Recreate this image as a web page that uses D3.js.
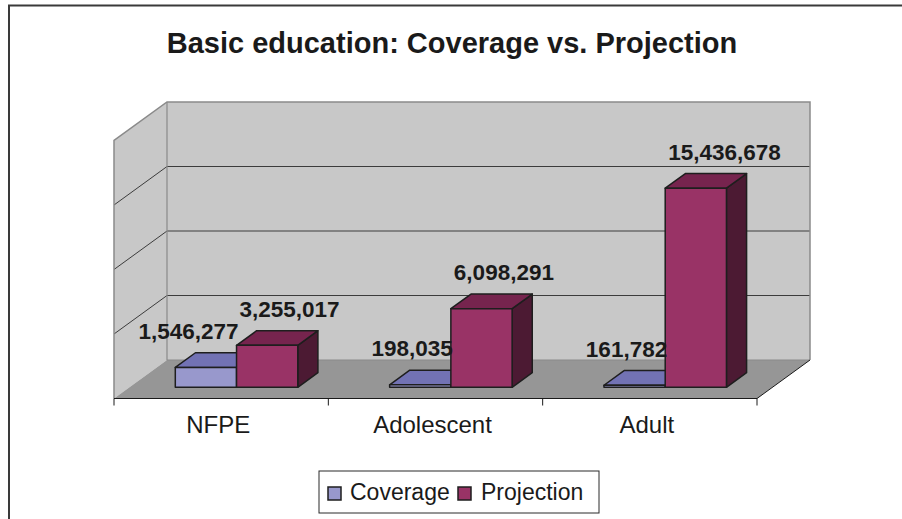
<!DOCTYPE html>
<html>
<head>
<meta charset="utf-8">
<script src="https://cdn.jsdelivr.net/npm/d3@7"></script>
<style>
  html, body { margin: 0; padding: 0; background: #fff; overflow: hidden; }
  svg { display: block; }
  text { font-family: Arial, "Liberation Sans", sans-serif; fill: #1a1a1a; }
</style>
</head>
<body>
<svg id="chart" width="902" height="519"></svg>
<script>
// Chart data
const categories = ["NFPE", "Adolescent", "Adult"];
const seriesNames = ["Coverage", "Projection"];
const coverage = [1546277, 198035, 161782];
const projection = [3255017, 6098291, 15436678];
const valueTicks = [0, 5000000, 10000000, 15000000, 20000000];
const chartTitle = "Basic education: Coverage vs. Projection";

// Layout of the 3D box (front plane + depth vector)
const W = 902, H = 519;
const frontLeft = 114, frontRight = 757;
const floorY = 398.5;               // front edge of the floor
const DX = 53, DY = 38.5;           // full depth offset of the box
const wallH = 258;                  // back wall height in px
const zFront = 0.29, zBack = 0.67;  // depth span occupied by the columns

const colors = {
  Coverage:   { front: "#9898cc", top: "#7272b4", side: "#55558a" },
  Projection: { front: "#993366", top: "#76244e", side: "#4c1a33" }
};

const svg = d3.select("#chart");

// Scales
const x = d3.scaleBand().domain(categories).range([frontLeft, frontRight]).paddingInner(0).paddingOuter(0);
const xs = d3.scaleBand().domain(seriesNames).range([0, x.bandwidth()]).paddingInner(0).paddingOuter(0.75);
const y = d3.scaleLinear().domain([0, d3.max(valueTicks)]).range([0, wallH]);

// Project a point on the front-plane x, depth z (0..1) and height h (px)
const P = (px, z, h) => [px + z * DX, floorY - z * DY - h];
const poly = pts => "M" + pts.map(p => p.join(",")).join("L") + "Z";

// Outer frame (only its top and left edges fall inside the page)
svg.append("path").attr("d", `M9,${H}L9,5.5L${W},5.5`)
  .attr("fill", "none").attr("stroke", "#3a3a3a").attr("stroke-width", 2);

// Title
svg.append("text").attr("x", 452).attr("y", 53).attr("text-anchor", "middle")
  .attr("font-size", 29).attr("font-weight", "bold").text(chartTitle);

const wallTop = y(d3.max(valueTicks));

// Side wall (left)
svg.append("path")
  .attr("d", poly([P(frontLeft, 0, 0), P(frontLeft, 1, 0), P(frontLeft, 1, wallTop), P(frontLeft, 0, wallTop)]))
  .attr("fill", "#c8c8c8").attr("stroke", "none");
// Back wall
svg.append("path")
  .attr("d", poly([P(frontLeft, 1, 0), P(frontRight, 1, 0), P(frontRight, 1, wallTop), P(frontLeft, 1, wallTop)]))
  .attr("fill", "#c8c8c8").attr("stroke", "none");
// Floor
svg.append("path")
  .attr("d", poly([P(frontLeft, 0, 0), P(frontRight, 0, 0), P(frontRight, 1, 0), P(frontLeft, 1, 0)]))
  .attr("fill", "#969696").attr("stroke", "none");

// Gridlines on back and side walls
valueTicks.filter(v => v > 0 && v < d3.max(valueTicks)).forEach(v => {
  const h = y(v);
  svg.append("path").attr("d", "M" + P(frontLeft, 0, h) + "L" + P(frontLeft, 1, h) + "L" + P(frontRight, 1, h))
    .attr("fill", "none").attr("stroke", "#3c3c3c").attr("stroke-width", 1);
});

// Wall outlines
svg.append("path")
  .attr("d", "M" + P(frontLeft, 0, 0) + "L" + P(frontLeft, 0, wallTop) + "L" + P(frontLeft, 1, wallTop) +
             "L" + P(frontRight, 1, wallTop) + "L" + P(frontRight, 1, 0))
  .attr("fill", "none").attr("stroke", "#8a8a8a").attr("stroke-width", 1.5);
svg.append("path")
  .attr("d", "M" + P(frontLeft, 1, wallTop) + "L" + P(frontLeft, 1, 0) + "L" + P(frontRight, 1, 0))
  .attr("fill", "none").attr("stroke", "#8a8a8a").attr("stroke-width", 1.2);

// Floor front edge (category axis) and right edge
svg.append("path")
  .attr("d", "M" + P(frontLeft, 0, 0) + "L" + P(frontRight, 0, 0) + "L" + P(frontRight, 1, 0))
  .attr("fill", "none").attr("stroke", "#1a1a1a").attr("stroke-width", 1);

// Category tick marks at band boundaries
const bounds = categories.map(c => x(c)).concat([frontRight]);
bounds.forEach(bx => {
  svg.append("line").attr("x1", bx).attr("x2", bx).attr("y1", floorY).attr("y2", floorY + 7)
    .attr("stroke", "#1a1a1a").attr("stroke-width", 1);
});

// Category labels
svg.selectAll("text.cat").data(categories).enter().append("text")
  .attr("class", "cat")
  .attr("x", d => x(d) + x.bandwidth() / 2 - 3)
  .attr("y", 433)
  .attr("text-anchor", "middle").attr("font-size", 24)
  .text(d => d);

// Columns
const seriesData = { Coverage: coverage, Projection: projection };
const bars = svg.append("g");
const labels = [];
categories.forEach((cat, i) => {
  seriesNames.forEach(s => {
    const v = seriesData[s][i];
    const x0 = x(cat) + xs(s), x1 = x0 + xs.bandwidth();
    const h = y(v);
    const c = colors[s];
    const g = bars.append("g").attr("stroke", "#1e1e1e").attr("stroke-width", 1.5).attr("stroke-linejoin", "round");
    // right side face
    g.append("path").attr("fill", c.side)
      .attr("d", poly([P(x1, zFront, 0), P(x1, zBack, 0), P(x1, zBack, h), P(x1, zFront, h)]));
    // top face
    g.append("path").attr("fill", c.top)
      .attr("d", poly([P(x0, zFront, h), P(x1, zFront, h), P(x1, zBack, h), P(x0, zBack, h)]));
    // front face
    g.append("path").attr("fill", c.front)
      .attr("d", poly([P(x0, zFront, 0), P(x1, zFront, 0), P(x1, zFront, h), P(x0, zFront, h)]));
    labels.push({ s, v, x0, x1, h });
  });
});

// Value labels
const fmt = d3.format(",");
labels.forEach(d => {
  const backTop = P(0, zBack, d.h)[1];
  const isCov = d.s === "Coverage";
  svg.append("text")
    .attr("x", isCov ? P(d.x1, zFront, 0)[0] + 2 : P(d.x0, zFront, 0)[0] + 3)
    .attr("y", backTop - 14)
    .attr("text-anchor", isCov ? "end" : "start")
    .attr("font-size", 22.5).attr("font-weight", "bold")
    .text(fmt(d.v));
});

// Legend
const lg = svg.append("g");
lg.append("rect").attr("x", 319).attr("y", 471).attr("width", 280).attr("height", 42)
  .attr("fill", "#fff").attr("stroke", "#2a2a2a").attr("stroke-width", 1);
const legendItems = [
  { name: seriesNames[0], sx: 328, tx: 350 },
  { name: seriesNames[1], sx: 458, tx: 481 }
];
legendItems.forEach(it => {
  lg.append("rect").attr("x", it.sx).attr("y", 487).attr("width", 13).attr("height", 13)
    .attr("fill", colors[it.name].front).attr("stroke", "#1e1e1e").attr("stroke-width", 1.5);
  lg.append("text").attr("x", it.tx).attr("y", 500).attr("font-size", 23).text(it.name);
});
</script>
</body>
</html>
